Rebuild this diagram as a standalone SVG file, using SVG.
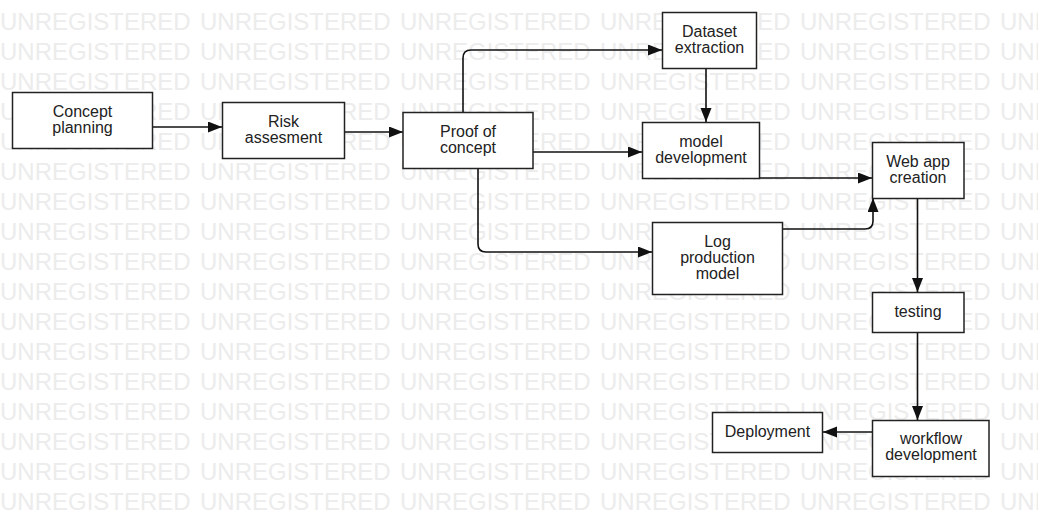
<svg xmlns="http://www.w3.org/2000/svg" width="1038" height="526" viewBox="0 0 1038 526">
<style>
.wm{font-family:"Liberation Sans",Arial,sans-serif;font-size:24px;fill:#ececec}
.box{fill:#fff;stroke:#222;stroke-width:1.5}
.lbl{font-family:"Liberation Sans",Arial,sans-serif;font-size:16px;fill:#222;text-anchor:middle}
.con{fill:none;stroke:#111;stroke-width:1.6}
</style>
<defs>
<marker id="ah" markerUnits="userSpaceOnUse" markerWidth="15" markerHeight="12" refX="14" refY="5.5" orient="auto">
<path d="M0,0 L14,5.5 L0,11 z" fill="#111"/>
</marker>
<g id="wmrow">
<text class="wm" x="0" y="0">UNREGISTERED</text>
<text class="wm" x="200" y="0">UNREGISTERED</text>
<text class="wm" x="400" y="0">UNREGISTERED</text>
<text class="wm" x="600" y="0">UNREGISTERED</text>
<text class="wm" x="800" y="0">UNREGISTERED</text>
<text class="wm" x="1000" y="0">UNREGISTERED</text>
</g>
</defs>
<rect width="1038" height="526" fill="#fff"/>
<g id="watermark">
<use href="#wmrow" y="30"/><use href="#wmrow" y="60"/><use href="#wmrow" y="90"/><use href="#wmrow" y="120"/>
<use href="#wmrow" y="150"/><use href="#wmrow" y="180"/><use href="#wmrow" y="210"/><use href="#wmrow" y="240"/>
<use href="#wmrow" y="270"/><use href="#wmrow" y="300"/><use href="#wmrow" y="330"/><use href="#wmrow" y="360"/>
<use href="#wmrow" y="390"/><use href="#wmrow" y="420"/><use href="#wmrow" y="450"/><use href="#wmrow" y="480"/>
<use href="#wmrow" y="510"/>
</g>
<g id="connectors">
<path class="con" marker-end="url(#ah)" d="M153,127 L222,127"/>
<path class="con" marker-end="url(#ah)" d="M345,132 L403,132"/>
<path class="con" marker-end="url(#ah)" d="M463,112 L463,58 Q463,50 471,50 L662,50"/>
<path class="con" marker-end="url(#ah)" d="M706,68 L706,122"/>
<path class="con" marker-end="url(#ah)" d="M533,152 L642,152"/>
<path class="con" marker-end="url(#ah)" d="M478,168 L478,244 Q478,252 486,252 L652,252"/>
<path class="con" marker-end="url(#ah)" d="M759,178 L872,178"/>
<path class="con" marker-end="url(#ah)" d="M783,229 L865,229 Q873,229 873,221 L873,198"/>
<path class="con" marker-end="url(#ah)" d="M917.5,198 L917.5,292"/>
<path class="con" marker-end="url(#ah)" d="M917.5,332 L917.5,420"/>
<path class="con" marker-end="url(#ah)" d="M872,432 L823,432"/>
</g>
<g id="concept-planning">
<rect class="box" x="12.5" y="92.5" width="140" height="56"/>
<text class="lbl" x="82.5" y="117">Concept</text>
<text class="lbl" x="82.5" y="133">planning</text>
</g>
<g id="risk-assesment">
<rect class="box" x="222.5" y="102.5" width="122" height="56"/>
<text class="lbl" x="283.5" y="127">Risk</text>
<text class="lbl" x="283.5" y="143">assesment</text>
</g>
<g id="proof-of-concept">
<rect class="box" x="403" y="112.5" width="130" height="56"/>
<text class="lbl" x="468" y="137">Proof of</text>
<text class="lbl" x="468" y="153">concept</text>
</g>
<g id="dataset-extraction">
<rect class="box" x="662.5" y="12.5" width="94" height="56"/>
<text class="lbl" x="709.5" y="37">Dataset</text>
<text class="lbl" x="709.5" y="53">extraction</text>
</g>
<g id="model-development">
<rect class="box" x="642.5" y="122.5" width="117" height="56"/>
<text class="lbl" x="701" y="147">model</text>
<text class="lbl" x="701" y="163">development</text>
</g>
<g id="web-app-creation">
<rect class="box" x="872.5" y="142.5" width="91.5" height="56"/>
<text class="lbl" x="918" y="167">Web app</text>
<text class="lbl" x="918" y="183">creation</text>
</g>
<g id="log-production-model">
<rect class="box" x="652.5" y="222.5" width="130" height="72"/>
<text class="lbl" x="717.5" y="247">Log</text>
<text class="lbl" x="717.5" y="263">production</text>
<text class="lbl" x="717.5" y="279">model</text>
</g>
<g id="testing">
<rect class="box" x="872.5" y="292.5" width="91.5" height="40"/>
<text class="lbl" x="918" y="317">testing</text>
</g>
<g id="workflow-development">
<rect class="box" x="872.5" y="420.5" width="116.5" height="56"/>
<text class="lbl" x="931" y="444">workflow</text>
<text class="lbl" x="931" y="460">development</text>
</g>
<g id="deployment">
<rect class="box" x="712.5" y="412.5" width="110" height="40"/>
<text class="lbl" x="767.5" y="437">Deployment</text>
</g>
</svg>
